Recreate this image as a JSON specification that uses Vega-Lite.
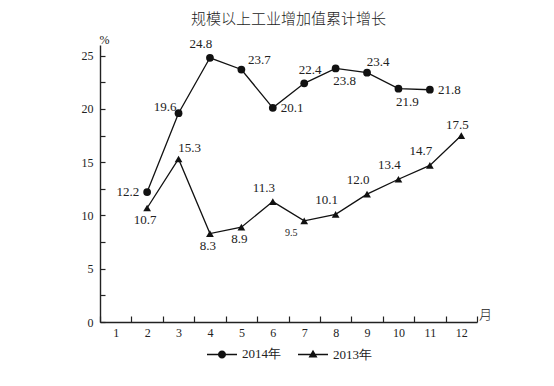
{
  "$schema": "https://vega.github.io/schema/vega-lite/v6.json",
  "width": 377,
  "height": 277,
  "autosize": {"type": "none"},
  "padding": {"left": 100, "top": 45, "right": 77, "bottom": 64},
  "background": "white",
  "title": {"text": "规模以上工业增加值累计增长", "font": "Noto Sans CJK SC", "fontSize": 15, "fontWeight": 300, "color": "#222", "offset": 6, "anchor": "middle"},
  "config": {
    "view": {"stroke": null},
    "legend": {"layout": {"bottom": {"anchor": "middle"}}}
  },
  "datasets": {
    "d": [
      {"month": 2, "series": "2014年", "value": 12.2},
      {"month": 3, "series": "2014年", "value": 19.6},
      {"month": 4, "series": "2014年", "value": 24.8},
      {"month": 5, "series": "2014年", "value": 23.7},
      {"month": 6, "series": "2014年", "value": 20.1},
      {"month": 7, "series": "2014年", "value": 22.4},
      {"month": 8, "series": "2014年", "value": 23.8},
      {"month": 9, "series": "2014年", "value": 23.4},
      {"month": 10, "series": "2014年", "value": 21.9},
      {"month": 11, "series": "2014年", "value": 21.8},
      {"month": 2, "series": "2013年", "value": 10.7},
      {"month": 3, "series": "2013年", "value": 15.3},
      {"month": 4, "series": "2013年", "value": 8.3},
      {"month": 5, "series": "2013年", "value": 8.9},
      {"month": 6, "series": "2013年", "value": 11.3},
      {"month": 7, "series": "2013年", "value": 9.5},
      {"month": 8, "series": "2013年", "value": 10.1},
      {"month": 9, "series": "2013年", "value": 12.0},
      {"month": 10, "series": "2013年", "value": 13.4},
      {"month": 11, "series": "2013年", "value": 14.7},
      {"month": 12, "series": "2013年", "value": 17.5}
    ]
  },
  "data": {"name": "d"},
  "resolve": {"scale": {"shape": "independent"}, "legend": {"shape": "independent"}},
  "encoding": {
    "x": {
      "field": "month", "type": "ordinal",
      "scale": {"type": "band", "domain": [1,2,3,4,5,6,7,8,9,10,11,12], "paddingInner": 0, "paddingOuter": 0},
      "axis": {
        "title": "月", "titleFont": "Noto Sans CJK SC", "titleFontSize": 13, "titleFontWeight": 300, "titleColor": "#222",
        "titleAngle": 0, "titleX": 385, "titleY": -8, "titleAlign": "center", "titleBaseline": "middle",
        "labelAngle": 0, "labelFont": "Liberation Serif", "labelFontSize": 12, "labelColor": "#222",
        "tickBand": "extent", "tickSize": -6, "tickColor": "#222", "tickWidth": 1.2, "labelPadding": 11,
        "domainColor": "#222", "domainWidth": 1.4, "grid": false
      }
    },
    "y": {
      "field": "value", "type": "quantitative",
      "scale": {"domain": [0, 26], "nice": false},
      "axis": {
        "values": [0, 2.5, 5, 7.5, 10, 12.5, 15, 17.5, 20, 22.5, 25],
        "labelExpr": "datum.value % 5 === 0 ? datum.label : ''",
        "title": "%", "titleFont": "Liberation Serif", "titleFontSize": 12, "titleFontWeight": "normal", "titleColor": "#222",
        "titleAngle": 0, "titleX": 4, "titleY": -2, "titleAlign": "center", "titleBaseline": "alphabetic",
        "labelFont": "Liberation Serif", "labelFontSize": 12, "labelColor": "#222",
        "tickSize": -5, "tickColor": "#222", "tickWidth": 1.2, "labelPadding": 12,
        "domainColor": "#222", "domainWidth": 1.4, "grid": false
      }
    }
  },
  "layer": [
    {
      "mark": {"type": "line", "color": "#111", "strokeWidth": 1.3},
      "encoding": {"detail": {"field": "series"}}
    },
    {
      "mark": {"type": "point", "filled": true, "color": "#111", "opacity": 1, "size": 60},
      "encoding": {
        "shape": {
          "field": "series", "type": "nominal",
          "scale": {"domain": ["2014年", "2013年"], "range": ["circle", "triangle-up"]},
          "legend": null
        }
      }
    },
    {
      "mark": {"type": "point", "filled": true, "color": "#111", "opacity": 0, "size": 1},
      "encoding": {
        "shape": {
          "field": "series", "type": "nominal",
          "scale": {"domain": ["2014年", "2013年"], "range": ["M-1,-0.045L1,-0.045L1,0.045L-1,0.045ZM0.27,0A0.27,0.27 0 1,1 -0.27,0A0.27,0.27 0 1,1 0.27,0Z", "M-1,-0.045L1,-0.045L1,0.045L-1,0.045ZM0,-0.32L0.3,0.2L-0.3,0.2Z"]},
          "legend": {
            "orient": "bottom", "direction": "horizontal", "title": null,
            "symbolSize": 900, "symbolFillColor": "#111", "symbolOpacity": 1,
            "labelFont": "Liberation Serif", "labelFontSize": 13, "labelColor": "#222",
            "labelOffset": 4, "columnPadding": 14, "offset": 0
          }
        }
      }
    },
    {
      "transform": [{"filter": "datum.series === '2014年' && datum.month === 2"}],
      "mark": {"type": "text", "align": "right", "baseline": "middle", "dx": -8, "dy": 0, "font": "Liberation Serif", "fontSize": 13, "color": "#222"},
      "encoding": {"text": {"field": "value", "type": "quantitative", "format": ".1f"}}
    },
    {
      "transform": [{"filter": "datum.series === '2014年' && datum.month === 3"}],
      "mark": {"type": "text", "align": "right", "baseline": "middle", "dx": -2, "dy": -6, "font": "Liberation Serif", "fontSize": 13, "color": "#222"},
      "encoding": {"text": {"field": "value", "type": "quantitative", "format": ".1f"}}
    },
    {
      "transform": [{"filter": "(datum.series === '2014年' && datum.month === 4) || (datum.series === '2013年' && indexof([6, 8, 9, 10, 11], datum.month) >= 0)"}],
      "mark": {"type": "text", "align": "center", "baseline": "middle", "dx": -9, "dy": -14, "font": "Liberation Serif", "fontSize": 13, "color": "#222"},
      "encoding": {"text": {"field": "value", "type": "quantitative", "format": ".1f"}}
    },
    {
      "transform": [{"filter": "datum.series === '2014年' && datum.month === 5"}],
      "mark": {"type": "text", "align": "center", "baseline": "middle", "dx": 18, "dy": -10, "font": "Liberation Serif", "fontSize": 13, "color": "#222"},
      "encoding": {"text": {"field": "value", "type": "quantitative", "format": ".1f"}}
    },
    {
      "transform": [{"filter": "datum.series === '2014年' && indexof([6, 11], datum.month) >= 0"}],
      "mark": {"type": "text", "align": "left", "baseline": "middle", "dx": 8, "dy": 0, "font": "Liberation Serif", "fontSize": 13, "color": "#222"},
      "encoding": {"text": {"field": "value", "type": "quantitative", "format": ".1f"}}
    },
    {
      "transform": [{"filter": "datum.series === '2014年' && datum.month === 7"}],
      "mark": {"type": "text", "align": "center", "baseline": "middle", "dx": 6, "dy": -13, "font": "Liberation Serif", "fontSize": 13, "color": "#222"},
      "encoding": {"text": {"field": "value", "type": "quantitative", "format": ".1f"}}
    },
    {
      "transform": [{"filter": "(datum.series === '2014年' && datum.month === 9) || (datum.series === '2013年' && datum.month === 3)"}],
      "mark": {"type": "text", "align": "center", "baseline": "middle", "dx": 11, "dy": -11, "font": "Liberation Serif", "fontSize": 13, "color": "#222"},
      "encoding": {"text": {"field": "value", "type": "quantitative", "format": ".1f"}}
    },
    {
      "transform": [{"filter": "datum.series === '2014年' && indexof([8, 10], datum.month) >= 0"}],
      "mark": {"type": "text", "align": "center", "baseline": "middle", "dx": 9, "dy": 13, "font": "Liberation Serif", "fontSize": 13, "color": "#222"},
      "encoding": {"text": {"field": "value", "type": "quantitative", "format": ".1f"}}
    },
    {
      "transform": [{"filter": "datum.series === '2013年' && indexof([2, 4, 5], datum.month) >= 0"}],
      "mark": {"type": "text", "align": "center", "baseline": "middle", "dx": -2, "dy": 12, "font": "Liberation Serif", "fontSize": 13, "color": "#222"},
      "encoding": {"text": {"field": "value", "type": "quantitative", "format": ".1f"}}
    },
    {
      "transform": [{"filter": "datum.series === '2013年' && datum.month === 7"}],
      "mark": {"type": "text", "align": "center", "baseline": "middle", "dx": -13, "dy": 12, "font": "Liberation Serif", "fontSize": 10, "color": "#222"},
      "encoding": {"text": {"field": "value", "type": "quantitative", "format": ".1f"}}
    },
    {
      "transform": [{"filter": "datum.series === '2013年' && datum.month === 12"}],
      "mark": {"type": "text", "align": "center", "baseline": "middle", "dx": -4, "dy": -11, "font": "Liberation Serif", "fontSize": 13, "color": "#222"},
      "encoding": {"text": {"field": "value", "type": "quantitative", "format": ".1f"}}
    }
  ]
}
